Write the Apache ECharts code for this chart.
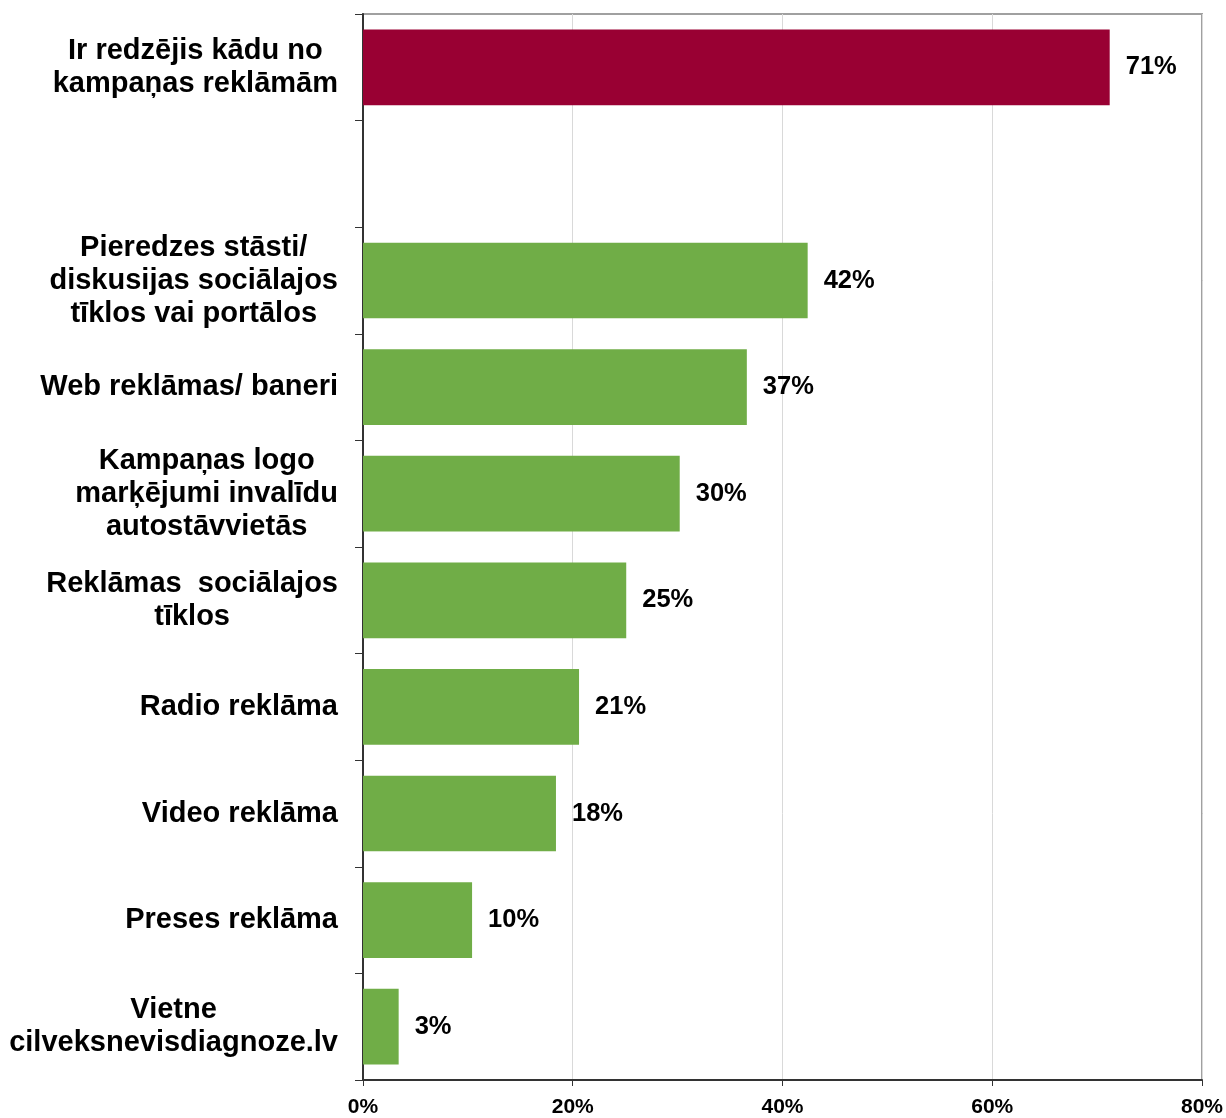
<!DOCTYPE html>
<html>
<head>
<meta charset="utf-8">
<script src="https://cdn.jsdelivr.net/npm/echarts@6/dist/echarts.min.js"></script>
<style>html,body{margin:0;padding:0;background:#fff}#c{width:1226px;height:1118px}</style>
</head>
<body>
<div id="c"></div>
<script>
var categories = [
  'Ir redzējis kādu no\nkampaņas reklāmām',
  '',
  'Pieredzes stāsti/\ndiskusijas sociālajos\ntīklos vai portālos',
  'Web reklāmas/ baneri',
  'Kampaņas logo\nmarķējumi invalīdu\nautostāvvietās',
  'Reklāmas  sociālajos\ntīklos',
  'Radio reklāma',
  'Video reklāma',
  'Preses reklāma',
  'Vietne\ncilveksnevisdiagnoze.lv'
];
var values = [71.2, null, 42.4, 36.6, 30.2, 25.1, 20.6, 18.4, 10.4, 3.4];
var barColors = ['#990033', null, '#70ad47', '#70ad47', '#70ad47', '#70ad47', '#70ad47', '#70ad47', '#70ad47', '#70ad47'];
var xTicks = { min: 0, max: 80, interval: 20 };

var FONT = '"Liberation Sans", Arial, sans-serif';
var chart = echarts.init(document.getElementById('c'), null, { renderer: 'canvas' });
chart.setOption({
  animation: false,
  backgroundColor: '#fff',
  grid: { left: 363, right: 23, top: 14, bottom: 37, show: true, borderColor: '#a0a0a0', borderWidth: 2, containLabel: false },
  xAxis: {
    type: 'value', min: xTicks.min, max: xTicks.max, interval: xTicks.interval,
    axisLine: { show: true, lineStyle: { color: '#333', width: 2 } },
    axisTick: { show: true, length: 6, lineStyle: { color: '#333', width: 1 } },
    splitLine: { show: true, lineStyle: { color: '#d9d9d9', width: 1 } },
    axisLabel: { formatter: '{value}%', color: '#000', fontSize: 21, fontWeight: 'bold', fontFamily: FONT, margin: 17 }
  },
  yAxis: {
    type: 'category', inverse: true, data: categories,
    axisLine: { show: true, lineStyle: { color: '#333', width: 2 } },
    axisTick: { show: true, length: 8, lineStyle: { color: '#333', width: 1 } },
    splitLine: { show: false },
    axisLabel: {
      margin: 25, align: 'right', interval: 0,
      formatter: function (v) { return v ? v.split('\n').map(function (l) { return '{c|' + l + '}'; }).join('\n') : ''; },
      rich: { c: { align: 'center', fontSize: 29, fontWeight: 'bold', fontFamily: FONT, color: '#000', lineHeight: 33 } }
    }
  },
  series: [{
    type: 'bar',
    data: values.map(function (v, i) { return { value: v, itemStyle: { color: barColors[i] } }; }),
    barCategoryGap: '29%',
    label: {
      show: true, position: 'right', distance: 16, color: '#000', fontSize: 25.5, fontWeight: 'bold', fontFamily: FONT,
      formatter: function (p) { return p.value == null ? '' : Math.round(p.value) + '%'; }
    }
  }]
});
</script>
</body>
</html>
